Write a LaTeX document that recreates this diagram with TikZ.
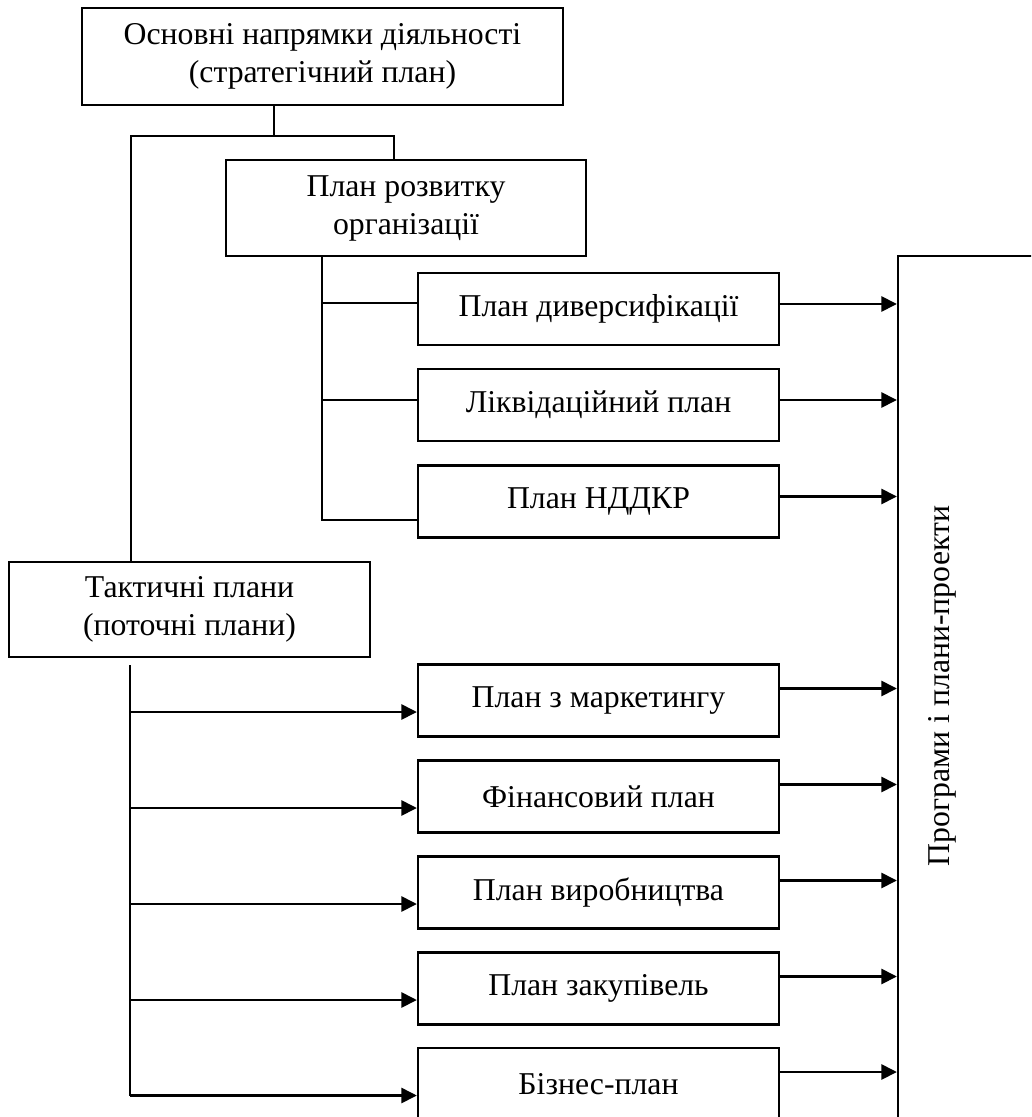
\documentclass[tikz,border=0pt]{standalone}
\usepackage{fontspec}
\setmainfont{Liberation Serif}
\usetikzlibrary{arrows.meta}

\begin{document}
\begin{tikzpicture}[
x=0.4pt, y=-0.4pt,
font=\fontsize{12.7}{15.2}\selectfont,
bigbox/.style={rectangle, draw, line width=0.9pt, align=center, inner sep=0pt},
planbox/.style={rectangle, draw, line width=0.9pt, inner sep=0pt, minimum width=144.4pt, minimum height=28.8pt},
line/.style={line width=0.9pt},
arrow/.style={line width=1.1pt, -{Triangle[length=6.2pt, width=6pt]}},
]
\useasboundingbox (0,0) rectangle (1031,1117);
\clip (0,0) rectangle (1031,1117);

%Nodes
\node[bigbox, minimum width=192.4pt, minimum height=38.8pt] (strat) at (322.5,56.5) {Основні напрямки діяльності\\(стратегічний план)};
\node[bigbox, minimum width=144pt, minimum height=38.4pt]   (rozv)  at (406,208)    {План розвитку\\організації};
\node[bigbox, minimum width=144.4pt, minimum height=38pt]   (takt)  at (189.5,609.5) {Тактичні плани\\(поточні плани)};

\node[planbox] (dyv)   at (598.5,309)   {План диверсифікації};
\node[planbox] (likv)  at (598.5,405)   {Ліквідаційний план};
\node[planbox] (nddkr) at (598.5,501.5) {План НДДКР};

\node[planbox] (mark)  at (598.5,700.5) {План з маркетингу};
\node[planbox] (fin)   at (598.5,796.5) {Фінансовий план};
\node[planbox] (vyr)   at (598.5,892.5) {План виробництва};
\node[planbox] (zak)   at (598.5,988.5) {План закупівель};
\node[planbox] (biz)   at (598.5,1084)  {Бізнес-план};

\node[bigbox, minimum width=65.6pt, minimum height=355.2pt] (progr) at (980,700) {};
\node[rotate=90] (progrtext) at (942,686) {Програми і плани-проекти};

%Lines
\coordinate (fork)  at (274,136);
\coordinate (forkL) at (131,136);
\coordinate (forkR) at (394,136);
\draw[line] (fork |- strat.south) -- (fork);
\draw[line] (forkL |- takt.north) -- (forkL) -- (forkR) -- (forkR |- rozv.north);

\coordinate (rtrunk) at (322,256);
\coordinate (dyv-in)   at ([yshift=2.4pt]dyv.west);
\coordinate (likv-in)  at ([yshift=2pt]likv.west);
\coordinate (nddkr-in) at ([yshift=-7.4pt]nddkr.west);
\draw[line] (rtrunk) -- (rtrunk |- nddkr-in) -- (nddkr-in);
\draw[line] (rtrunk |- dyv-in) -- (dyv-in);
\draw[line] (rtrunk |- likv-in) -- (likv-in);

\coordinate (ttop) at (130,665);
\foreach \b in {mark,fin,vyr,zak,biz}
  \coordinate (\b-in) at ([yshift=-4.6pt]\b.west);
\draw[line] (ttop) -- (ttop |- biz-in);
\foreach \b in {mark,fin,vyr,zak,biz}
  \draw[arrow] (ttop |- \b-in) -- (\b-in);

\foreach \b in {dyv,likv,nddkr}
  \coordinate (\b-out) at ([yshift=2pt]\b.east);
\foreach \b in {mark,fin,vyr,zak,biz}
  \coordinate (\b-out) at ([yshift=4.8pt]\b.east);
\foreach \b in {dyv,likv,nddkr,mark,fin,vyr,zak,biz}
  \draw[arrow] (\b-out) -- (\b-out -| progr.west);
\end{tikzpicture}
\end{document}
